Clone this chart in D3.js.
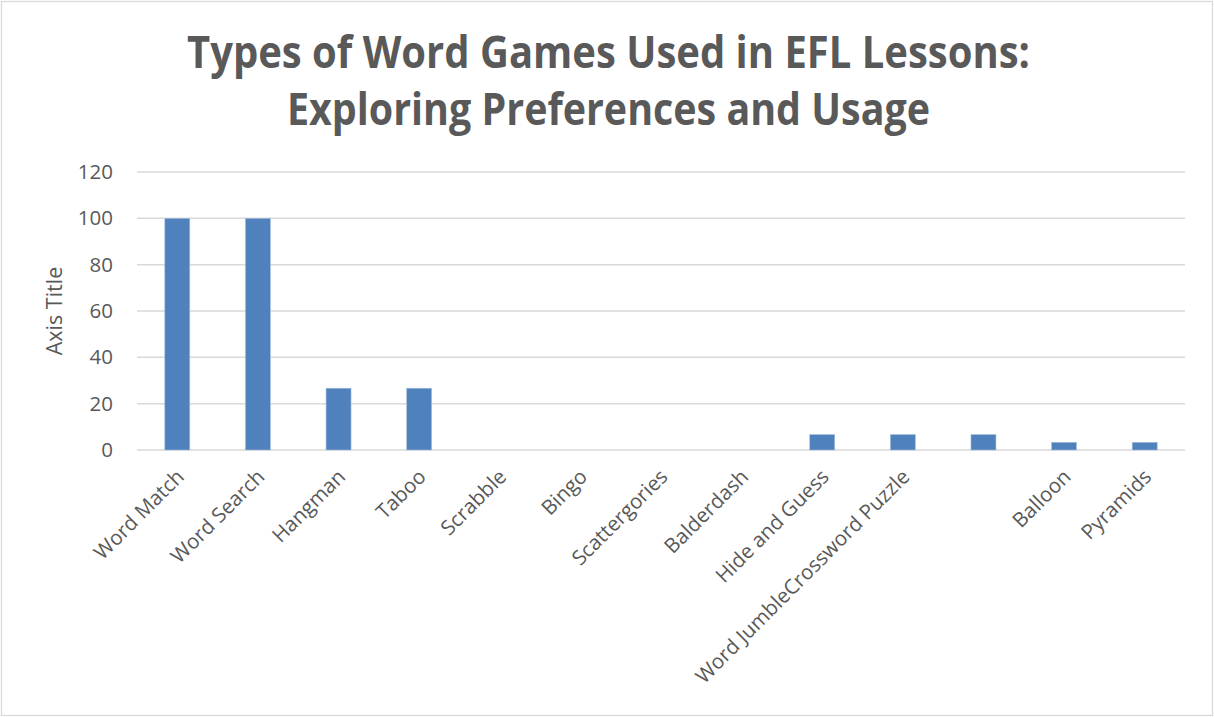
<!DOCTYPE html>
<html>
<head>
<meta charset="utf-8">
<script src="https://cdn.jsdelivr.net/npm/d3@7"></script>
<style>
  html, body { margin: 0; padding: 0; background: #ffffff; }
  svg { display: block; }
</style>
</head>
<body>
<svg id="chart" width="1214" height="717"></svg>
<script>
// Word games used in EFL lessons
const categories = [
  "Word Match", "Word Search", "Hangman", "Taboo", "Scrabble", "Bingo",
  "Scattergories", "Balderdash", "Hide and Guess", "Word JumbleCrossword Puzzle",
  "", "Balloon", "Pyramids"
];
const values = [100, 100, 26.67, 26.67, 0, 0, 0, 0, 6.67, 6.67, 6.67, 3.33, 3.33];
const yTicks = [0, 20, 40, 60, 80, 100, 120];
const titleLines = [
  "Types of Word Games Used in EFL Lessons:",
  "Exploring Preferences and Usage"
];
const yAxisTitle = "Axis Title";

const W = 1214, H = 717;
const margin = { left: 137, right: 1185, top: 172, bottom: 450 };
const textColor = "#595959";
const gridColor = "#d9d9d9";
const barColor = "#4f81bd";
const font = "'Open Sans', 'Noto Sans', sans-serif";

const svg = d3.select("#chart");

// chart frame
svg.append("rect")
  .attr("x", 1.5).attr("y", 1.5)
  .attr("width", W - 3).attr("height", H - 3)
  .attr("fill", "#ffffff")
  .attr("stroke", gridColor).attr("stroke-width", 1.3);

const x = d3.scaleBand()
  .domain(d3.range(categories.length))
  .range([margin.left, margin.right])
  .paddingInner(0.69)
  .paddingOuter(0.345);

const y = d3.scaleLinear()
  .domain([0, 120])
  .range([margin.bottom, margin.top]);

// gridlines
svg.append("g")
  .selectAll("line")
  .data(yTicks)
  .join("line")
  .attr("x1", margin.left).attr("x2", margin.right)
  .attr("y1", d => y(d)).attr("y2", d => y(d))
  .attr("stroke", gridColor)
  .attr("stroke-width", 1.5);

// y axis tick labels
const yAxis = d3.axisLeft(y).tickValues(yTicks).tickSize(0).tickPadding(0);
const yG = svg.append("g")
  .attr("transform", `translate(${113},0)`)
  .call(yAxis);
yG.select(".domain").remove();
yG.selectAll("text")
  .attr("fill", textColor)
  .style("font-family", font)
  .style("font-size", "20.5px");

// bars
svg.append("g")
  .selectAll("rect")
  .data(values)
  .join("rect")
  .attr("x", (d, i) => x(i))
  .attr("width", x.bandwidth())
  .attr("y", d => y(d))
  .attr("height", d => y(0) - y(d))
  .attr("fill", barColor)
  .attr("stroke", "#a7c0e0")
  .attr("stroke-width", 0.6);

// category labels, rotated
const xAxis = d3.axisBottom(x).tickSize(0).tickFormat(i => categories[i]);
const xG = svg.append("g")
  .attr("transform", `translate(0,${margin.bottom})`)
  .call(xAxis);
xG.select(".domain").remove();
xG.selectAll("text")
  .attr("fill", textColor)
  .style("font-family", font)
  .style("font-size", "20.5px")
  .attr("text-anchor", "end")
  .attr("y", 0)
  .attr("dy", 0)
  .attr("transform", "translate(8,28) rotate(-45)");

// y axis title
svg.append("text")
  .attr("transform", `translate(62,${(margin.top + margin.bottom) / 2}) rotate(-90)`)
  .attr("text-anchor", "middle")
  .attr("fill", textColor)
  .style("font-family", font)
  .style("font-size", "21.5px")
  .text(yAxisTitle);

// chart title
const titleLengths = [843, 643];
svg.append("g")
  .selectAll("text")
  .data(titleLines)
  .join("text")
  .attr("x", 608.5)
  .attr("y", (d, i) => 68 + i * 57)
  .attr("text-anchor", "middle")
  .attr("fill", textColor)
  .style("font-family", font)
  .style("font-weight", "bold")
  .style("font-size", "44px")
  .attr("textLength", (d, i) => titleLengths[i])
  .attr("lengthAdjust", "spacingAndGlyphs")
  .text(d => d);
</script>
</body>
</html>
